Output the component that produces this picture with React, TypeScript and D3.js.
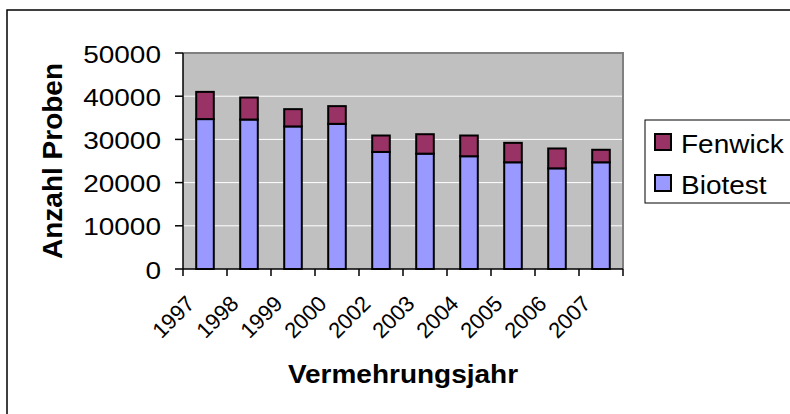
import React from 'react';
import * as d3 from 'd3';

// Vermehrungsjahr, Anzahl Proben (gestapelt)
const years = ['1997', '1998', '1999', '2000', '2002', '2003', '2004', '2005', '2006', '2007'];
const biotest = [34700, 34600, 33000, 33600, 27100, 26700, 26100, 24700, 23300, 24700];
const fenwick = [6300, 5100, 4000, 4100, 3800, 4500, 4800, 4500, 4600, 2900];
const seriesNames = ['Biotest', 'Fenwick'];
const seriesColors = ['#9999FF', '#993366'];
const yMax = 50000;

const FONT = '"Liberation Sans", Arial, Helvetica, sans-serif';

export default function App() {
  const width = 790;
  const height = 414;
  const plot = { left: 183, top: 53, right: 623, bottom: 269 };

  const x = d3
    .scaleBand()
    .domain(years)
    .range([plot.left, plot.right])
    .paddingInner(0.6)
    .paddingOuter(0.3);

  const y = d3.scaleLinear().domain([0, yMax]).range([plot.bottom, plot.top]);

  const rows = years.map((yr, i) => ({ year: yr, Biotest: biotest[i], Fenwick: fenwick[i] }));
  const stacked = d3.stack().keys(seriesNames)(rows as any);

  const yTicks = y.ticks(5);
  const step = x.step();

  return (
    <>
      <style>{'body{margin:0}'}</style>
      <svg width={width} height={height} style={{ display: 'block', fontFamily: FONT }}>
        <rect x={0} y={0} width={width} height={height} fill="#fff" />
        {/* chart frame, right and bottom fall outside the picture */}
        <rect x={7} y={10} width={900} height={600} fill="none" stroke="#000" strokeWidth={1.5} />

        {/* plot area */}
        <rect x={plot.left} y={plot.top} width={plot.right - plot.left} height={plot.bottom - plot.top} fill="#C0C0C0" />
        {yTicks.filter((t) => t > 0 && t < yMax).map((t) => (
          <line key={t} x1={plot.left} x2={plot.right} y1={y(t)} y2={y(t)} stroke="#fff" strokeWidth={1} />
        ))}
        <path
          d={`M${plot.left},${plot.top}H${plot.right}V${plot.bottom}`}
          fill="none"
          stroke="#808080"
          strokeWidth={2}
        />

        {/* bars */}
        {stacked.map((layer, si) =>
          layer.map((d, i) => (
            <rect
              key={`${si}-${i}`}
              x={x(years[i])}
              y={y(d[1])}
              width={x.bandwidth()}
              height={y(d[0]) - y(d[1])}
              fill={seriesColors[si]}
              stroke="#000"
              strokeWidth={2}
            />
          ))
        )}

        {/* y axis */}
        <line x1={plot.left} x2={plot.left} y1={plot.top} y2={plot.bottom} stroke="#000" strokeWidth={1.5} />
        {yTicks.map((t) => (
          <g key={t}>
            <line x1={plot.left - 8} x2={plot.left} y1={y(t)} y2={y(t)} stroke="#000" strokeWidth={1.5} />
            <text
              transform={`translate(${plot.left - 22},${y(t) + 9.5}) scale(1,0.88)`}
              textAnchor="end"
              fontSize={28}
              fill="#000"
            >
              {t}
            </text>
          </g>
        ))}

        {/* x axis */}
        <line x1={plot.left} x2={plot.right} y1={plot.bottom} y2={plot.bottom} stroke="#000" strokeWidth={1.5} />
        {years.map((yr, i) => (
          <line
            key={`t${yr}`}
            x1={plot.left + i * step}
            x2={plot.left + i * step}
            y1={plot.bottom}
            y2={plot.bottom + 7}
            stroke="#000"
            strokeWidth={1.5}
          />
        ))}
        <line x1={plot.right} x2={plot.right} y1={plot.bottom} y2={plot.bottom + 7} stroke="#000" strokeWidth={1.5} />
        {years.map((yr) => (
          <text
            key={`l${yr}`}
            transform={`translate(${(x(yr) as number) + x.bandwidth() / 2 - 9},${305}) rotate(-45)`}
            textAnchor="end"
            fontSize={22}
            fill="#000"
          >
            {yr}
          </text>
        ))}

        {/* axis titles */}
        <text
          transform={`translate(${(plot.left + plot.right) / 2},383) scale(1,0.9)`}
          textAnchor="middle"
          fontSize={28}
          fontWeight="bold"
          fill="#000"
        >
          Vermehrungsjahr
        </text>
        <text
          transform={`translate(62,${(plot.top + plot.bottom) / 2}) rotate(-90)`}
          textAnchor="middle"
          fontSize={28}
          fontWeight="bold"
          fill="#000"
        >
          Anzahl Proben
        </text>

        {/* legend */}
        <rect x={645} y={120} width={200} height={83} fill="#fff" stroke="#000" strokeWidth={1} />
        {[1, 0].map((si, k) => (
          <g key={seriesNames[si]}>
            <rect x={655} y={134 + k * 41} width={16} height={16} fill={seriesColors[si]} stroke="#000" strokeWidth={2} />
            <text
              transform={`translate(681,${152.5 + k * 41}) scale(1,0.95)`}
              fontSize={28}
              fill="#000"
            >
              {seriesNames[si]}
            </text>
          </g>
        ))}
      </svg>
    </>
  );
}
